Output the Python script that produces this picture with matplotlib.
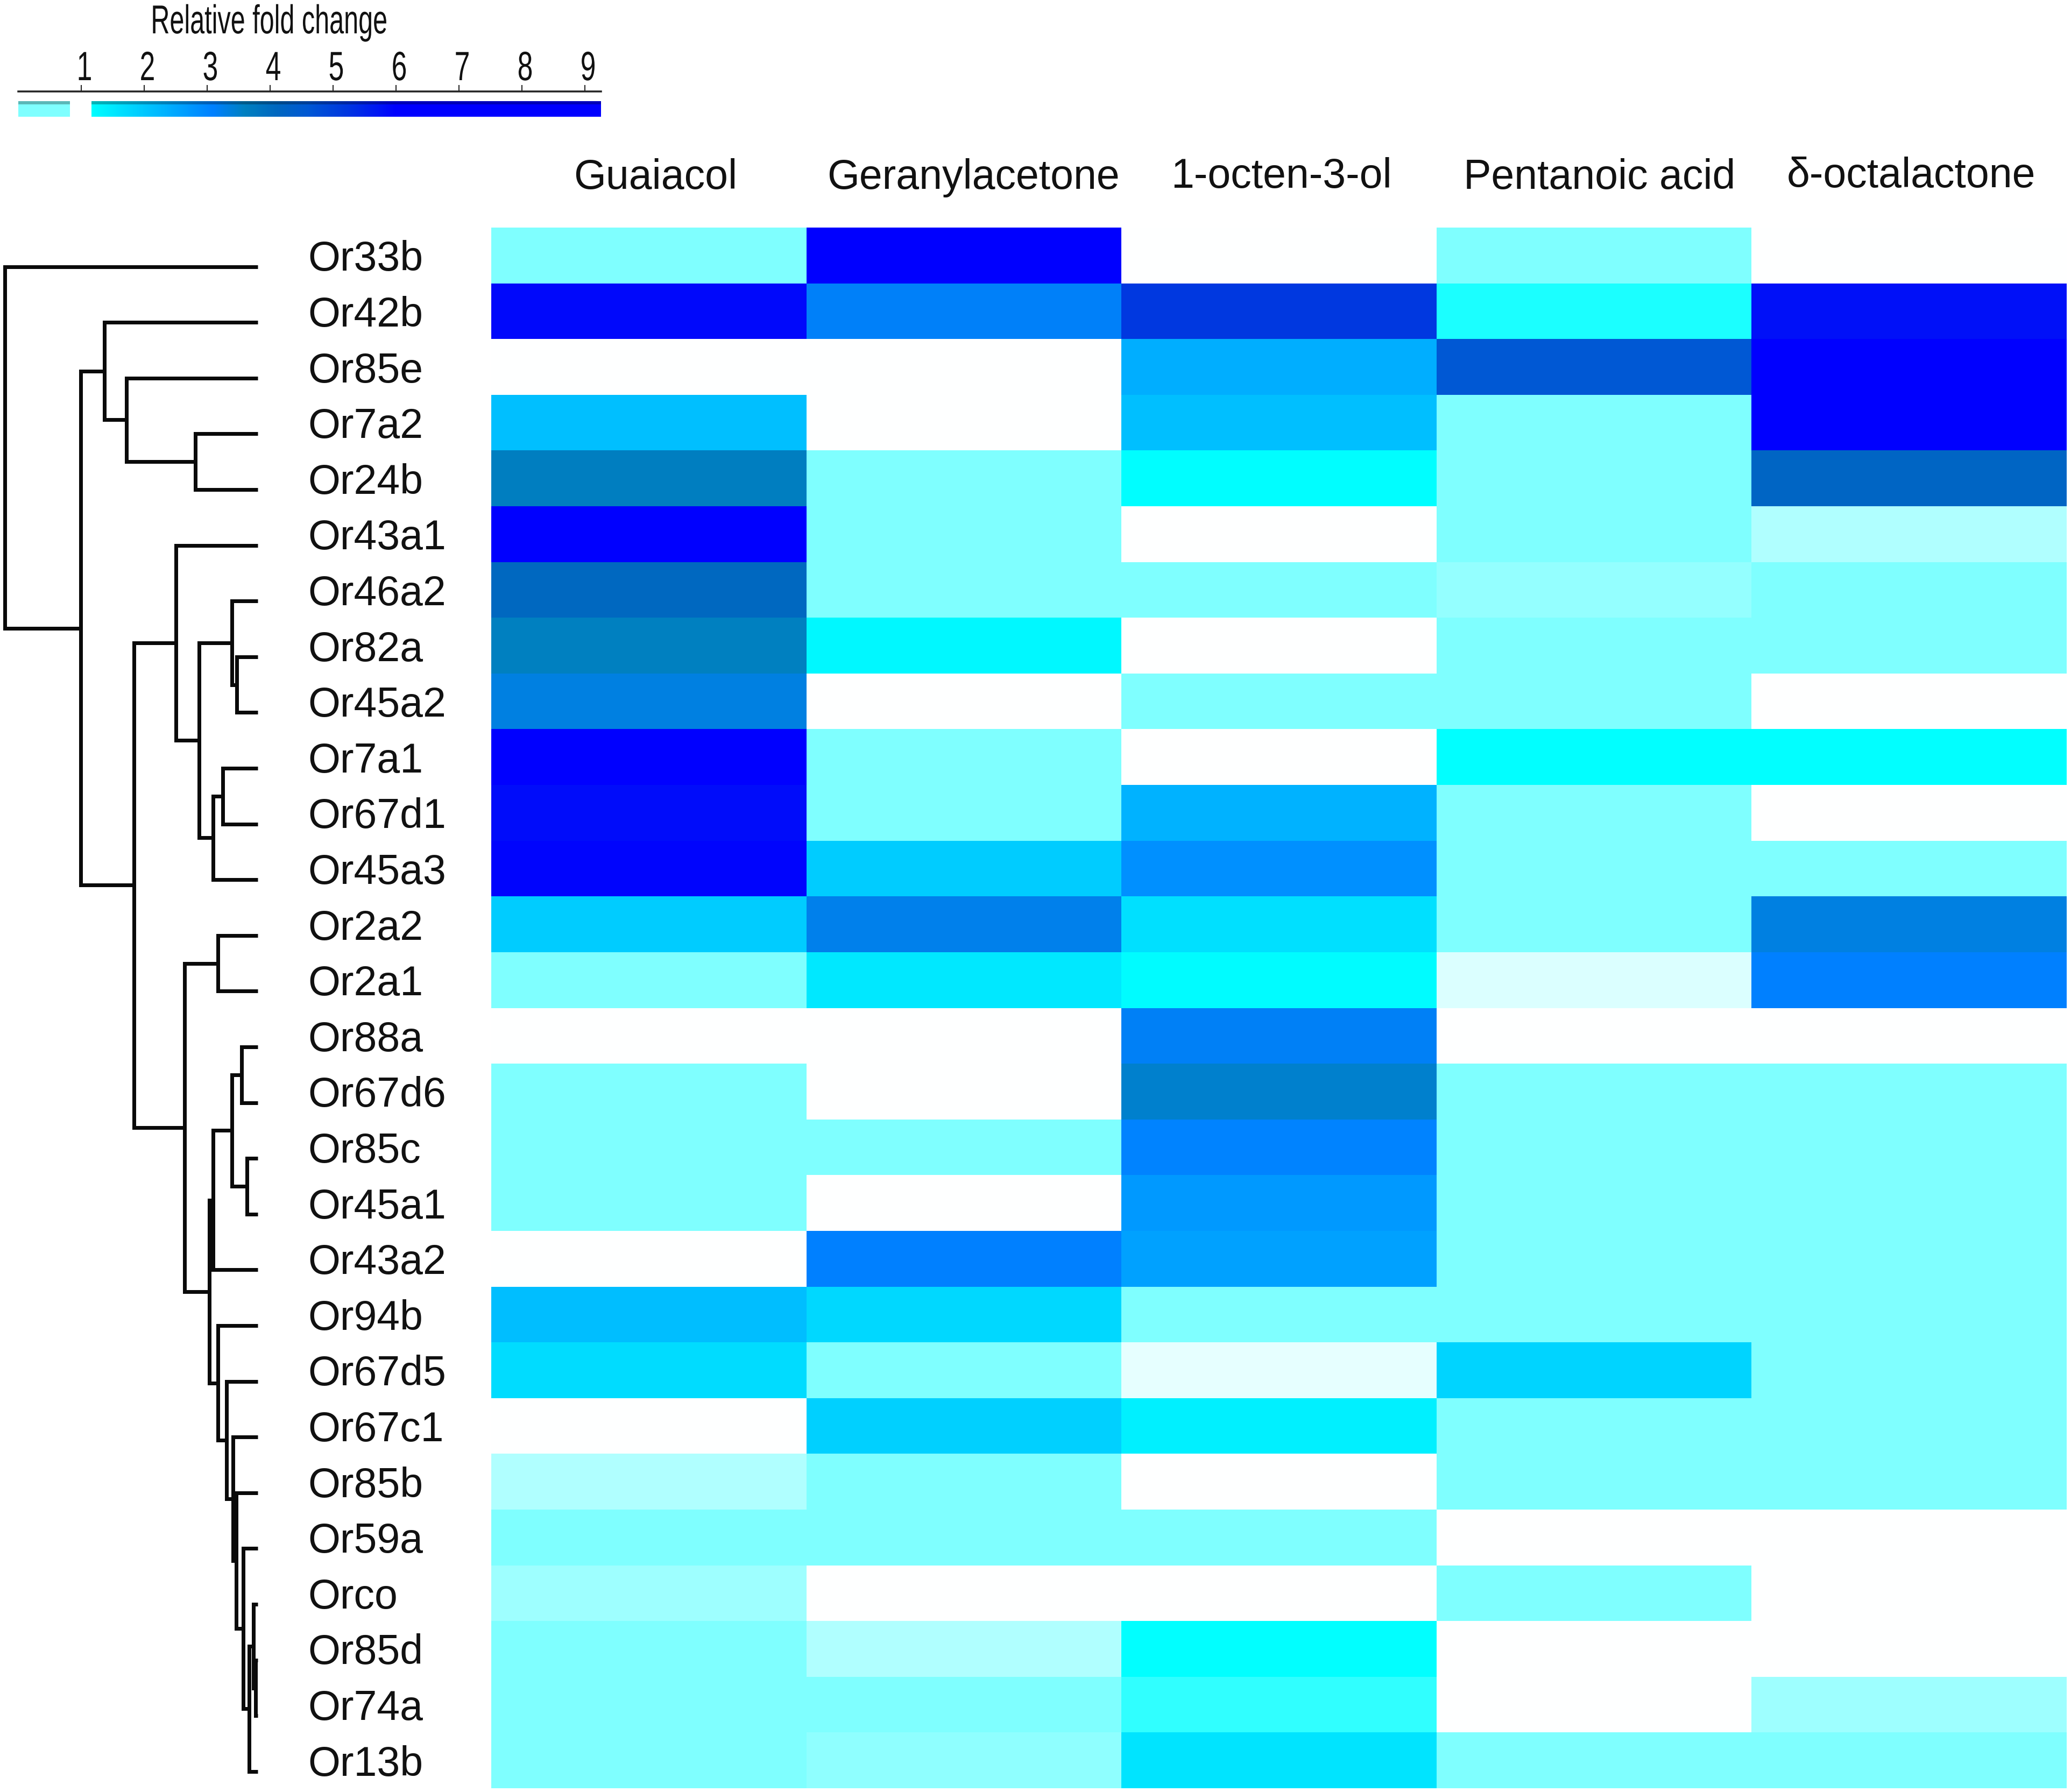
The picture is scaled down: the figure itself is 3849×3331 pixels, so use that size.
import numpy as np
import matplotlib
matplotlib.use("Agg")
import matplotlib.pyplot as plt
from matplotlib.colors import LinearSegmentedColormap, Normalize
from matplotlib.patheffects import AbstractPathEffect
from matplotlib.transforms import Affine2D, ScaledTranslation

# ---------- data ----------
genes = ["Or33b", "Or42b", "Or85e", "Or7a2", "Or24b", "Or43a1", "Or46a2", "Or82a", "Or45a2", "Or7a1",
         "Or67d1", "Or45a3", "Or2a2", "Or2a1", "Or88a", "Or67d6", "Or85c", "Or45a1", "Or43a2", "Or94b",
         "Or67d5", "Or67c1", "Or85b", "Or59a", "Orco", "Or85d", "Or74a", "Or13b"]
odorants = ["Guaiacol", "Geranylacetone", "1-octen-3-ol", "Pentanoic acid", "δ-octalactone"]

guaiacol = [.5, 5.9, 1, 2.14, 3.65, 6.5, 4.1, 3.6, 3.34, 6.5, 5.85, 5.95, 1.94, .5,
            1, .5, .5, .5, 1, 2.16, 1.69, 1, .89, .5, .865, .5, .5, .5]
geranylacetone = [6.5, 3.15, 1, 1, .5, .5, .5, 1.27, 1, .5, .5, 1.94, 3.26, 1.52,
                  1, 1, .5, 1, 3.1, 1.75, .5, 1.88, .5, .5, 1, .89, .5, .845]
octenol = [1, 5.2, 2.4, 2.14, 1.17, 1, .5, 1, .5, 1, 2.34, 2.86, 1.64, 1.2,
           3.17, 3.5, 3.05, 2.72, 2.6, .5, .965, 1.39, 1, .5, 1, 1.16, 1.14, 1.58]
pentanoic = [.5, 1.15, 4.6, .5, .5, .5, .85, .5, .5, 1.16, .5, .5, .5, .95,
             1, .5, .5, .5, .5, .5, 1.82, .5, .5, 1, .5, 1, 1, .5]
octalactone = [1, 5.8, 6.5, 6.5, 4.2, .89, .5, .5, 1, 1.16, 1, .5, 3.34, 3.1,
               1, .5, .5, .5, .5, .5, .5, .5, .5, 1, 1, 1, .865, .5]

legend_ticks = [1, 2, 3, 4, 5, 6, 7, 8, 9]

# dendrogram: (merge height, upper child, lower child); leaves are gene names
tree = (470, "Or33b",
        (329,
         (285, "Or42b",
          (244, "Or85e", (116, "Or7a2", "Or24b"))),
         (230,
          (152, "Or43a1",
           (109,
            (48, "Or46a2", (39, "Or82a", "Or45a2")),
            (83, (65, "Or7a1", "Or67d1"), "Or45a3"))),
          (136,
           (74, "Or2a2", "Or2a1"),
           (90,
            (83,
             (48, (30, "Or88a", "Or67d6"), (20, "Or85c", "Or45a1")),
             "Or43a2"),
            (74, "Or94b",
             (58, "Or67d5",
              (46, "Or67c1",
               (40, "Or85b",
                (27, "Or59a",
                 (16, (8, "Orco", (4, "Or85d", "Or74a")), "Or13b")))))))))))

# ---------- style ----------
W, H = 3849, 3331
DPI = 100
PX = 72 / DPI
SANS = "Liberation Sans"
plt.rcParams["font.family"] = [SANS, "DejaVu Sans"]

VMAX = 9.256
stops = [(0, "#7FFFFF"), (.82, "#7FFFFF"), (1.0, "#FFFFFF"), (1.05, "#FFFFFF"), (1.16, "#00FFFF"),
         (3.1, "#0080FF"), (3.6, "#0080C0"), (4.1, "#0068C0"), (4.6, "#0058D4"), (5.2, "#0038E0"),
         (5.8, "#0010F8"), (6.0, "#0000FF"), (VMAX, "#0000FF")]
cmap = LinearSegmentedColormap.from_list("fold", [(v / VMAX, c) for v, c in stops], N=4096)
norm = Normalize(0, VMAX)


class Squeeze(AbstractPathEffect):
    """Draw a text's glyphs condensed horizontally about a pixel column."""

    def __init__(self, sx, cx, dx=0):
        super().__init__()
        self.sx, self.cx, self.dx = sx, cx, dx

    def draw_path(self, renderer, gc, tpath, affine, rgbFace=None):
        squeeze = Affine2D().translate(-self.cx, 0).scale(self.sx, 1).translate(self.cx + self.dx, 0)
        renderer.draw_path(gc, tpath, affine + squeeze, rgbFace)


def axes_px(x0, y0, x1, y1):
    return fig.add_axes([x0 / W, 1 - y1 / H, (x1 - x0) / W, (y1 - y0) / H])


fig = plt.figure(figsize=(W / DPI, H / DPI), dpi=DPI, facecolor="white")

# ---------- heat map ----------
HX0, HX1, HY0, HY1 = 913, 3841, 423, 3324
ax = axes_px(HX0, HY0, HX1, HY1)
matrix = np.array([guaiacol, geranylacetone, octenol, pentanoic, octalactone]).T
ax.pcolormesh(np.arange(len(odorants) + 1) - .5, np.arange(len(genes) + 1) - .5, matrix,
              cmap=cmap, norm=norm, edgecolors="none", antialiased=False)
ax.set_ylim(len(genes) - .5, -.5)
ax.set_xlim(-.5, len(odorants) - .5)
for s in ax.spines.values():
    s.set_visible(False)
ax.set_xticks([])
ax.set_yticks(np.arange(len(genes)))
ax.set_yticklabels(genes, fontsize=77 * PX, ha="left", color="#111111")
ax.tick_params(axis="y", length=0, pad=(HX0 - 572) * PX)
label_shift = ScaledTranslation(0, -8 / DPI, fig.dpi_scale_trans)
for lab in ax.get_yticklabels():
    lab.set_verticalalignment("center")
    lab.set_transform(lab.get_transform() + label_shift)

header_x = [1218, 1809, 2381, 2973, 3552]
header_base = [351, 351, 349, 351, 348]
for name, x, y in zip(odorants, header_x, header_base):
    fig.text(x / W, 1 - y / H, name, ha="center", va="baseline", fontsize=77 * PX, color="#111111")

# ---------- dendrogram ----------
TIP = 479
dax = axes_px(0, HY0, TIP, HY1)
dax.set_xlim(TIP, 0)
dax.set_ylim(len(genes) - .5, -.5)
dax.axis("off")
LEAF_OFFSET = 0.2


def draw(node):
    if isinstance(node, str):
        return 0, genes.index(node) + LEAF_OFFSET
    h, a, b = node
    ha_, ya = draw(a)
    hb, yb = draw(b)
    dax.plot([ha_, h, h, hb], [ya, ya, yb, yb], color="#0a0a0a", lw=7 * PX, clip_on=False,
             solid_capstyle="butt", solid_joinstyle="miter")
    return h, (ya + yb) / 2


draw(tree)

# ---------- colour legend ----------
LX0, LX1 = 34, 1117
bar = axes_px(LX0, 188, LX1, 217)
grad = np.linspace(0, VMAX, 2000)
shown = np.ma.masked_inside(grad, .82, 1.16)
cm = cmap.copy()
cm.set_bad("white")
bar.imshow(shown[None, :], aspect="auto", cmap=cm, norm=norm, extent=[0, VMAX, 0, 1],
           interpolation="nearest")
bar.axis("off")
for a0, a1 in [(0, .82), (1.16, VMAX)]:
    bar.plot([a0, a1], [.88, .88], color="black", alpha=.28, lw=6 * PX, solid_capstyle="butt")
bar.set_xlim(0, VMAX)
bar.set_ylim(0, 1)

rule = axes_px(LX0, 170, LX1, 170.01)
rule.set_xlim(0, VMAX)
rule.set_yticks([])
rule.patch.set_visible(False)
for k, s in rule.spines.items():
    s.set_visible(k == "top")
rule.spines["top"].set_linewidth(3.5 * PX)
rule.spines["top"].set_color("#222222")
rule.xaxis.set_ticks_position("top")
rule.set_xticks(legend_ticks)
rule.set_xticklabels([str(t) for t in legend_ticks], fontsize=76 * PX, color="#111111")
rule.tick_params(axis="x", length=12 * PX, width=2 * PX, pad=-7 * PX, color="#222222")
for t, lab in zip(legend_ticks, rule.get_xticklabels()):
    tick_px = LX0 + t * (LX1 - LX0) / VMAX
    lab.set_path_effects([Squeeze(.68, tick_px, dx=6)])

TITLE_X = 500
title = fig.text(TITLE_X / W, 1 - 62 / H, "Relative fold change", ha="center", va="baseline",
                 fontsize=75 * PX, color="#111111")
title.set_path_effects([Squeeze(.647, TITLE_X)])

fig.savefig("out.png", dpi=DPI, facecolor="white")
